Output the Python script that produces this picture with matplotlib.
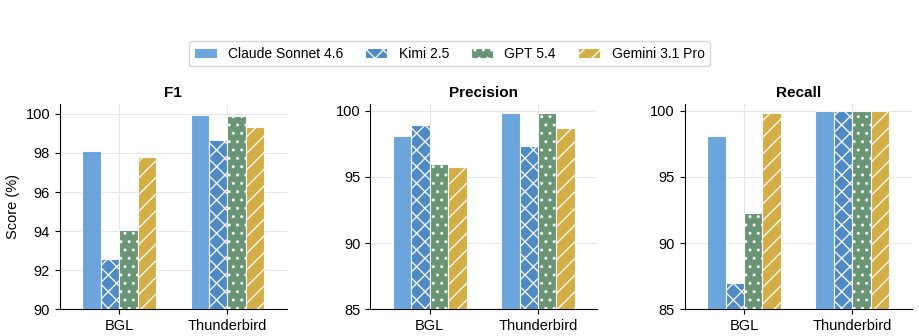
import matplotlib.pyplot as plt
import numpy as np

plt.rcParams['font.family'] = ['Liberation Sans', 'DejaVu Sans']
plt.rcParams['hatch.color'] = 'white'
plt.rcParams['hatch.linewidth'] = 1.0

datasets = ['BGL', 'Thunderbird']
models = ['Claude Sonnet 4.6', 'Kimi 2.5', 'GPT 5.4', 'Gemini 3.1 Pro']
colors = ['#5b9bd9', '#3d7dbd', '#5a8a66', '#cfa532']
hatches = ['', 'xx', '..', '//']

# scores per model, [BGL, Thunderbird]
f1 = [[98.12, 99.93], [92.56, 98.65], [94.07, 99.88], [97.79, 99.33]]
precision = [[98.11, 99.85], [98.94, 97.33], [95.94, 99.80], [95.76, 98.66]]
recall = [[98.08, 100.0], [86.97, 100.0], [92.27, 100.0], [99.80, 100.0]]

panels = [('F1', f1, (90, 100.5), [90, 92, 94, 96, 98, 100]),
          ('Precision', precision, (85, 100.5), [85, 90, 95, 100]),
          ('Recall', recall, (85, 100.5), [85, 90, 95, 100])]

fig = plt.figure(figsize=(9.19, 3.36), dpi=100)
lefts = [0.065, 0.403, 0.745]
x = np.arange(len(datasets))
w = 0.17

for (title, vals, ylim, yt), left in zip(panels, lefts):
    ax = fig.add_axes([left, 0.08, 0.247, 0.61])
    for i, m in enumerate(models):
        ax.bar(x + (i - 1.5) * w, vals[i], w, label=m, color=colors[i],
               hatch=hatches[i], edgecolor='white', linewidth=0.8, alpha=0.9,
               zorder=3)
    ax.set_xticks(x)
    ax.set_xticklabels(datasets, fontsize=10.5)
    ax.set_xlim(-0.55, 1.55)
    ax.set_ylim(*ylim)
    ax.set_yticks(yt)
    ax.tick_params(axis='y', labelsize=10.5)
    ax.set_title(title, fontsize=11, fontweight='bold', pad=5)
    ax.grid(True, color='#e6e6e6', linewidth=0.8, zorder=0)
    ax.spines['top'].set_visible(False)
    ax.spines['right'].set_visible(False)
    if title == 'F1':
        ax.set_ylabel('Score (%)', fontsize=10.5)
        handles, labels = ax.get_legend_handles_labels()

fig.legend(handles, labels, loc='center', bbox_to_anchor=(0.489, 0.84),
           ncol=4, fontsize=10, frameon=True, edgecolor='#cccccc',
           handlelength=1.6, columnspacing=1.6)

fig.savefig('out.png', dpi=100)
